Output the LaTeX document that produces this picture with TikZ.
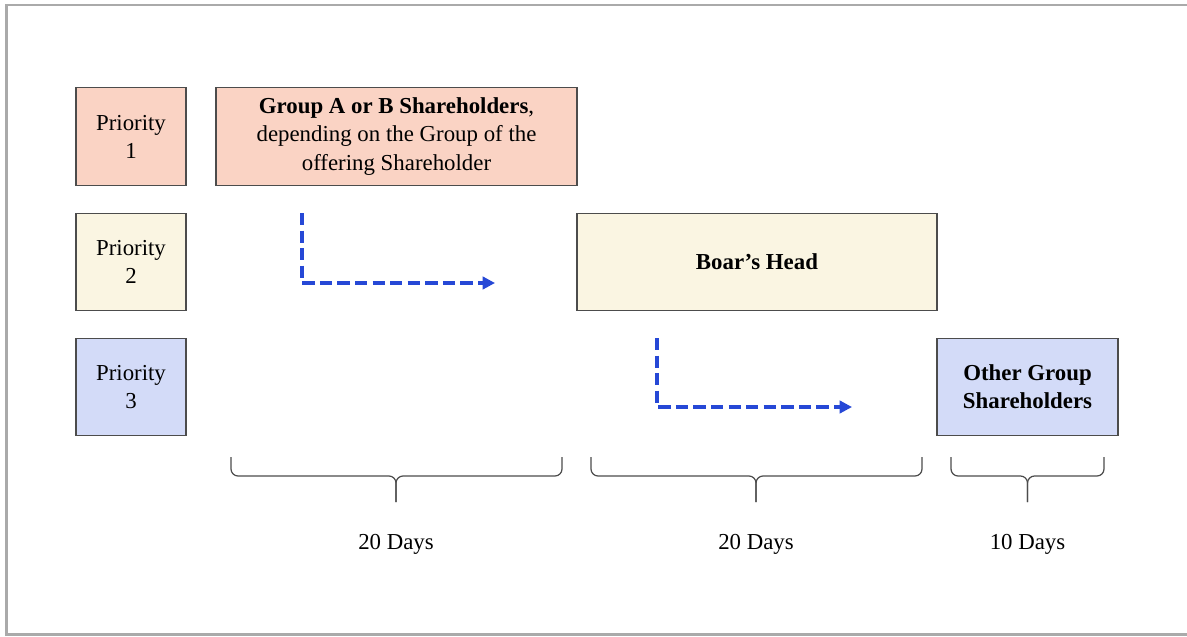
\documentclass[tikz,border=0pt]{standalone}
\usepackage{fontspec}
\setmainfont{Liberation Serif}
\usetikzlibrary{arrows.meta}

\definecolor{pinkfill}{RGB}{250,211,196}
\definecolor{creamfill}{RGB}{250,245,226}
\definecolor{bluefill}{RGB}{211,219,248}
\definecolor{arrowblue}{RGB}{38,72,214}
\definecolor{framegray}{RGB}{170,170,170}

\begin{document}
\begin{tikzpicture}[inner sep=0pt,outer sep=0pt,
font=\fontsize{13}{16}\selectfont,
prioblock/.style={draw=black!70,rectangle,minimum width=2.2cm,minimum height=1.95cm,align=center,line width=0.7pt},
stageblock/.style={draw=black!70,rectangle,minimum height=1.95cm,align=center,line width=0.7pt},
flow/.style={draw=arrowblue,line width=2.2pt,dash pattern=on 7pt off 3pt,-{Triangle[length=7pt,width=7pt]}},
bracket/.style={draw=black!70,line width=0.7pt,rounded corners=4pt}]

\useasboundingbox (0,0) rectangle (23.74,12.72);
\draw[framegray,line width=1.7pt] (23.8,12.62) -- (0.13,12.62) -- (0.13,0.04) -- (23.8,0.04);

\draw (2.62,9.99) node[prioblock,fill=pinkfill] (P1) {Priority\\1};
\draw (2.62,7.48) node[prioblock,fill=creamfill] (P2) {Priority\\2};
\draw (2.62,4.98) node[prioblock,fill=bluefill] (P3) {Priority\\3};

\draw (7.93,9.99) node[stageblock,fill=pinkfill,minimum width=7.22cm] (GrpAB) {\textbf{Group A or B Shareholders},\\depending on the Group of the\\offering Shareholder};
\draw (15.14,7.48) node[stageblock,fill=creamfill,minimum width=7.2cm] (Boar) {\textbf{Boar’s Head}};
\draw (20.55,4.98) node[stageblock,fill=bluefill,minimum width=3.62cm] (Other) {\textbf{Other Group}\\\textbf{Shareholders}};

% dashed hand-over arrows
\coordinate (a1) at (6.04,8.46);
\coordinate (b1) at (9.9,7.06);
\coordinate (a2) at (13.14,5.96);
\coordinate (b2) at (17.04,4.58);
\draw[flow] (a1) |- (b1);
\draw[flow] (a2) |- (b2);

% time braces
\foreach \l/\r/\m/\name in {4.62/11.24/7.92/d1,11.82/18.44/15.12/d2,19.02/22.08/20.55/d3}{
  \draw[bracket] (\l,3.58) -- (\l,3.2) -- (\m,3.2) -- (\m,2.68);
  \draw[bracket] (\r,3.58) -- (\r,3.2) -- (\m,3.2) -- (\m,2.68);
}
\draw (7.92,1.84) node (lab1) {20 Days};
\draw (15.12,1.84) node (lab2) {20 Days};
\draw (20.55,1.84) node (lab3) {10 Days};
\end{tikzpicture}
\end{document}
